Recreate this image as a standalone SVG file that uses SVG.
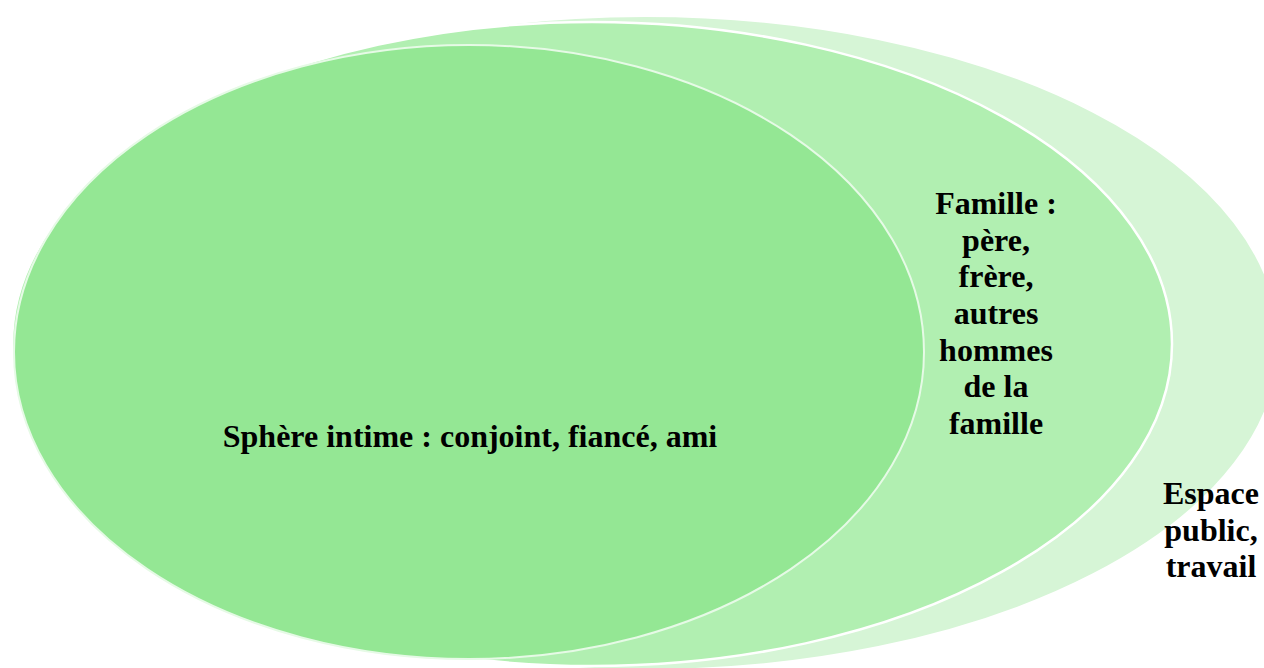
<svg xmlns="http://www.w3.org/2000/svg" width="1264" height="668" viewBox="0 0 1264 668">
<style>
.lbl{font-family:"Liberation Serif","Times New Roman",serif;font-weight:bold;font-size:32px;fill:#000;text-anchor:middle}
</style>
<rect width="1264" height="668" fill="#fff"/>
<g id="outer">
<ellipse cx="645" cy="343" rx="634" ry="327" fill="#d6f5d6" stroke="#fff" stroke-width="2"/>
</g>
<g id="middle">
<ellipse cx="592" cy="344" rx="580" ry="322" fill="#b1efb1" stroke="#fff" stroke-width="2.5"/>
</g>
<g id="inner">
<ellipse cx="469" cy="352" rx="455" ry="307" fill="#94e794" stroke="#e6fae6" stroke-width="2"/>
</g>
<g id="t-inner">
<text class="lbl" x="470" y="447">Sphère intime : conjoint, fiancé, ami</text>
</g>
<g id="t-middle">
<text class="lbl" x="996" y="214">Famille :</text>
<text class="lbl" x="996" y="251">père,</text>
<text class="lbl" x="996" y="287">frère,</text>
<text class="lbl" x="996" y="324">autres</text>
<text class="lbl" x="996" y="361">hommes</text>
<text class="lbl" x="996" y="397">de la</text>
<text class="lbl" x="996" y="434">famille</text>
</g>
<g id="t-outer">
<text class="lbl" x="1211" y="504">Espace</text>
<text class="lbl" x="1211" y="541">public,</text>
<text class="lbl" x="1211" y="577">travail</text>
</g>
</svg>
